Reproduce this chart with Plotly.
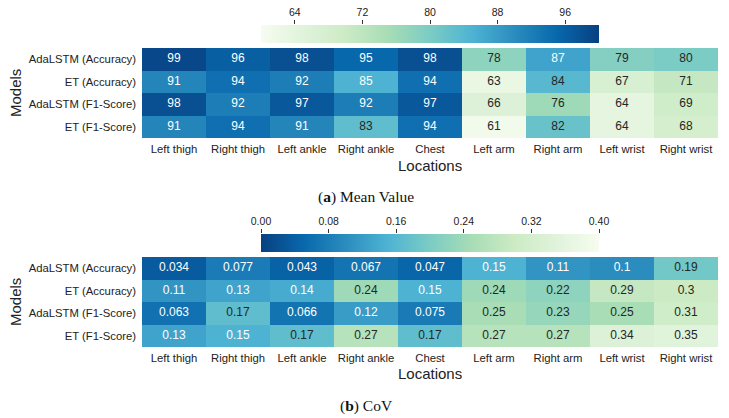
import plotly.graph_objects as go

locations = ["Left thigh", "Right thigh", "Left ankle", "Right ankle", "Chest",
             "Left arm", "Right arm", "Left wrist", "Right wrist"]
models = ["AdaLSTM (Accuracy)", "ET (Accuracy)", "AdaLSTM (F1-Score)", "ET (F1-Score)"]

mean_values = [
    [99, 96, 98, 95, 98, 78, 87, 79, 80],
    [91, 94, 92, 85, 94, 63, 84, 67, 71],
    [98, 92, 97, 92, 97, 66, 76, 64, 69],
    [91, 94, 91, 83, 94, 61, 82, 64, 68],
]
cov_values = [
    [0.034, 0.077, 0.043, 0.067, 0.047, 0.15, 0.11, 0.10, 0.19],
    [0.11, 0.13, 0.14, 0.24, 0.15, 0.24, 0.22, 0.29, 0.30],
    [0.063, 0.17, 0.066, 0.12, 0.075, 0.25, 0.23, 0.25, 0.31],
    [0.13, 0.15, 0.17, 0.27, 0.17, 0.27, 0.27, 0.34, 0.35],
]
mean_ticks = [64, 72, 80, 88, 96]
mean_range = [60, 100]
cov_ticks = [0.00, 0.08, 0.16, 0.24, 0.32, 0.40]
cov_range = [0, 0.4]

GNBU = ["rgb(247,252,240)", "rgb(224,243,219)", "rgb(204,235,197)", "rgb(168,221,181)",
        "rgb(123,204,196)", "rgb(78,179,211)", "rgb(43,140,190)", "rgb(8,104,172)",
        "rgb(8,64,129)"]
scale = [[i / (len(GNBU) - 1), c] for i, c in enumerate(GNBU)]
scale_r = [[i / (len(GNBU) - 1), c] for i, c in enumerate(GNBU[::-1])]

W, H = 729, 418
x0, x1 = 142 / W, 718 / W
cb_x0, cb_x1 = 261 / W, 599 / W
top_dom = [1 - 138 / H, 1 - 48 / H]
bot_dom = [1 - 347 / H, 1 - 257 / H]
top_cb = [1 - 43 / H, 1 - 25 / H]
bot_cb = [1 - 252 / H, 1 - 234 / H]

SANS = "Liberation Sans, Arial, sans-serif"
SERIF = "Liberation Serif, Times New Roman, serif"
TXT = "#222"

fig = go.Figure()

def add_block(values, xa, ya, cscale, rng, cb_dom, white_fn, cb_xa, cb_ya):
    fig.add_trace(go.Heatmap(
        z=values, x=locations, y=models, colorscale=cscale, zmin=rng[0], zmax=rng[1],
        xaxis=xa, yaxis=ya, hoverinfo="skip",
        colorbar=dict(orientation="h", x=(cb_x0 + cb_x1) / 2, xanchor="center",
                      len=cb_x1 - cb_x0, lenmode="fraction", thickness=cb_dom[1] - cb_dom[0],
                      thicknessmode="fraction",
                      y=cb_dom[0], yanchor="bottom", ypad=0, xpad=0, outlinewidth=0,
                      showticklabels=False, ticks=""),
    ))
    xs, ys, txt, cols = [], [], [], []
    for r, row in enumerate(values):
        for c, v in enumerate(row):
            xs.append(locations[c]); ys.append(models[r])
            txt.append(f"{v:.2g}")
            cols.append("white" if white_fn(v) else "#262626")
    fig.add_trace(go.Scatter(x=xs, y=ys, mode="text", text=txt, xaxis=xa, yaxis=ya,
                             textfont=dict(family=SANS, size=12, color=cols),
                             hoverinfo="skip", showlegend=False))
    # invisible carrier trace so the colorbar tick axis gets drawn
    fig.add_trace(go.Scatter(x=rng, y=[0.5, 0.5], mode="lines", line=dict(width=0),
                             opacity=0, xaxis=cb_xa, yaxis=cb_ya,
                             hoverinfo="skip", showlegend=False))

add_block(mean_values, "x", "y", scale, mean_range, top_cb, lambda v: v >= 85, "x3", "y3")
add_block(cov_values, "x2", "y2", scale_r, cov_range, bot_cb, lambda v: v <= 0.15, "x4", "y4")

axis_x = dict(domain=[x0, x1], showgrid=False, zeroline=False, ticks="",
              tickfont=dict(family=SANS, size=11.3, color=TXT), ticklabelstandoff=3)
axis_y = dict(showgrid=False, zeroline=False, ticks="", autorange="reversed",
              tickfont=dict(family=SANS, size=11.3, color=TXT), ticklabelstandoff=5)
cb_axis = dict(domain=[cb_x0, cb_x1], side="top", showgrid=False, zeroline=False,
               ticks="outside", ticklen=4, tickcolor="#333", showline=False,
               tickfont=dict(family=SANS, size=10.5, color=TXT), fixedrange=True)
cb_yaxis = dict(visible=False, range=[0, 1], showgrid=False, zeroline=False, fixedrange=True)

fig.update_layout(
    width=W, height=H, margin=dict(l=0, r=0, t=0, b=0, autoexpand=False),
    paper_bgcolor="white", plot_bgcolor="rgba(0,0,0,0)", showlegend=False,
    xaxis=dict(axis_x, anchor="y"),
    yaxis=dict(axis_y, domain=top_dom, anchor="x"),
    xaxis2=dict(axis_x, anchor="y2"),
    yaxis2=dict(axis_y, domain=bot_dom, anchor="x2"),
    xaxis3=dict(cb_axis, anchor="y3", range=mean_range, tickvals=mean_ticks, tickformat="d"),
    yaxis3=dict(cb_yaxis, domain=top_cb, anchor="x3"),
    xaxis4=dict(cb_axis, anchor="y4", range=cov_range, tickvals=cov_ticks, tickformat=".2f"),
    yaxis4=dict(cb_yaxis, domain=bot_cb, anchor="x4"),
)

ann = [
    dict(text="Locations", x=430 / W, y=1 - 165 / H, font=dict(family=SANS, size=15, color=TXT)),
    dict(text="Locations", x=430 / W, y=1 - 373 / H, font=dict(family=SANS, size=15, color=TXT)),
    dict(text="Models", x=15 / W, y=1 - 93 / H, textangle=-90, font=dict(family=SANS, size=15, color=TXT)),
    dict(text="Models", x=15 / W, y=1 - 302 / H, textangle=-90, font=dict(family=SANS, size=15, color=TXT)),
    dict(text="(<b>a</b>) Mean Value", x=366 / W, y=1 - 197 / H, font=dict(family=SERIF, size=15.5, color="#111")),
    dict(text="(<b>b</b>) CoV", x=366 / W, y=1 - 406 / H, font=dict(family=SERIF, size=15.5, color="#111")),
]
for a in ann:
    fig.add_annotation(xref="paper", yref="paper", showarrow=False,
                       xanchor="center", yanchor="middle", **a)

fig.write_html("out.html", config={"displayModeBar": False},
               post_script="document.body.style.margin='0';")
